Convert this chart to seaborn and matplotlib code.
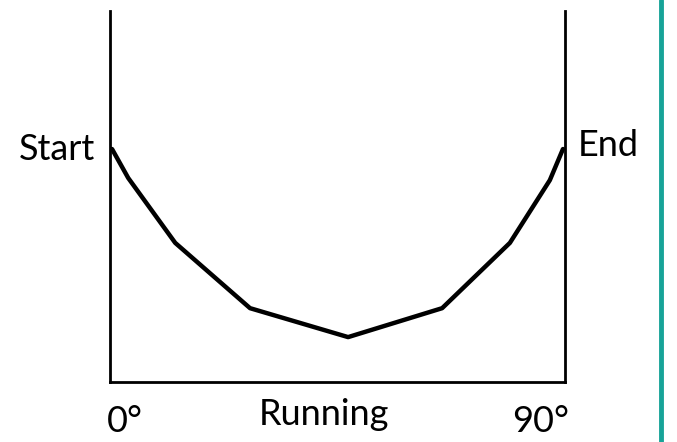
import matplotlib
matplotlib.use("Agg")
import matplotlib.pyplot as plt
from matplotlib import font_manager
import seaborn as sns
import pandas as pd

# angle along the run (degrees) and height of the curve (0-100 of the axis)
angle = [0.4, 3.6, 12.9, 27.7, 47.1, 65.7, 79.1, 87.0, 89.6]
height = [62.8, 55.0, 37.5, 19.9, 12.1, 19.9, 37.5, 54.4, 62.8]
tick_labels = ["0°", "90°"]
side_labels = ["Start", "End"]
x_label = "Running"

sns.set_theme(style="white")
names = {f.name for f in font_manager.fontManager.ttflist}
family = "Liberation Sans Narrow" if "Liberation Sans Narrow" in names else "Lato"
plt.rcParams["font.family"] = [family, "DejaVu Sans"]
plt.rcParams["text.color"] = "black"

df = pd.DataFrame({"angle": angle, "height": height})

fig = plt.figure(figsize=(6.77, 4.42), dpi=100)
ax = fig.add_axes([110 / 677, 60 / 442, 455 / 677, 371 / 442])

sns.lineplot(data=df, x="angle", y="height", sort=False, color="black",
             linewidth=3.2, ax=ax)

ax.set_xlim(0, 90)
ax.set_ylim(0, 100)
ax.set_xticks([])
ax.set_yticks([])
ax.set_xlabel("")
ax.set_ylabel("")
ax.spines["top"].set_visible(False)
for s in ["left", "right", "bottom"]:
    ax.spines[s].set_color("black")
    ax.spines[s].set_linewidth(2)

fs = 26
ax.text(-2.9, 59.8, side_labels[0], ha="right", va="baseline", fontsize=fs)
ax.text(92.5, 60.9, side_labels[1], ha="left", va="baseline", fontsize=fs)
ax.text(-0.6, -13.5, tick_labels[0], ha="left", va="baseline", fontsize=fs)
ax.text(90.8, -13.5, tick_labels[1], ha="right", va="baseline", fontsize=fs)
ax.text(42.3, -11.6, x_label, ha="center", va="baseline", fontsize=fs)

# teal divider at the right edge
fig.add_artist(plt.Line2D([661 / 677, 661 / 677], [0, 1], color="#17a398",
                          linewidth=3.5, transform=fig.transFigure))

fig.savefig("out.png", dpi=100)
